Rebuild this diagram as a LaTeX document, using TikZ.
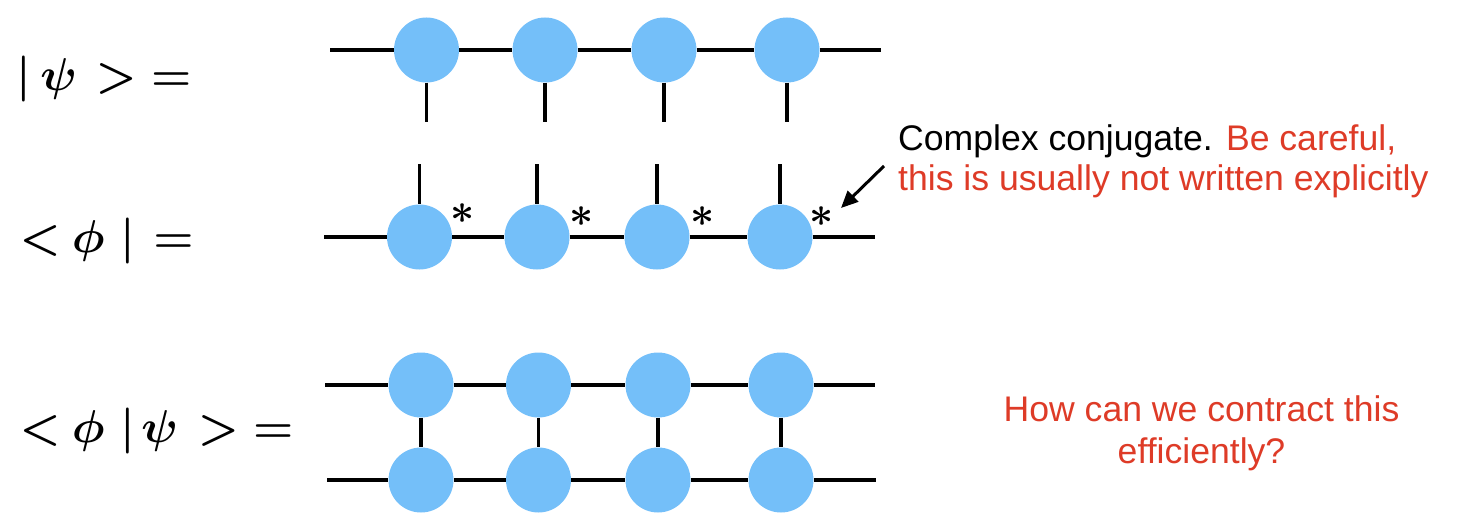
\RequirePackage{fix-cm}
\documentclass[tikz,border=0pt]{standalone}
\usepackage{fontspec}
\newfontfamily\notefont{Liberation Sans}
\usetikzlibrary{arrows.meta}

\definecolor{tensorblue}{RGB}{116,191,249}
\definecolor{notered}{RGB}{222,59,39}

\tikzset{
  tensor/.style={circle, fill=tensorblue, minimum size=65pt, inner sep=0pt},
  leg/.style={line width=3.3pt},
  lbl/.style={anchor=base west, inner sep=0pt, font=\fontsize{46}{56}\selectfont\boldmath},
  note/.style={inner sep=0pt, font=\notefont\fontsize{35.6}{42}\selectfont},
  conj/.style={inner sep=0pt, font=\fontsize{42}{42}\selectfont\boldmath}
}

\begin{document}
\begin{tikzpicture}[x=1pt,y=-1pt]
\useasboundingbox (0,0) rectangle (1472,516);

% labels
\node[lbl] (ket) at (16,91) {${\vert}\kern9.6pt\psi\kern18.5pt{>}\kern14.5pt{=}$};
\node[lbl] (bra) at (19.5,252.5) {${<}\kern11pt\phi\kern16pt{\vert}\kern18pt{=}$};
\node[lbl] (braket) at (19.5,442.5) {${<}\kern11pt\phi\kern16pt{\vert}\kern6pt\psi\kern20pt{>}\kern14pt{=}$};

% ket
\foreach \x [count=\i] in {426.5,545,664,787} {
  \node[tensor] (k\i) at (\x,50) {};
  \coordinate (kd\i) at (\x,122);
  \draw[leg] (k\i) -- (kd\i);
}
\coordinate (kL) at (330,50);
\coordinate (kR) at (881,50);
\draw[leg] (kL) -- (k1) -- (k2) -- (k3) -- (k4) -- (kR);

% bra
\foreach \x/\sx/\sy [count=\i] in {419.5/463/214, 537/582/217, 657/703/217, 780/822/217} {
  \node[tensor] (b\i) at (\x,237) {};
  \coordinate (bu\i) at (\x,164);
  \draw[leg] (bu\i) -- (b\i);
  \node[conj] (s\i) at (\sx,\sy) {$\ast$};
}
\coordinate (bL) at (324,237);
\coordinate (bR) at (875,237);
\draw[leg] (bL) -- (b1) -- (b2) -- (b3) -- (b4) -- (bR);

% <phi|psi>
\foreach \x [count=\i] in {421,538.5,658,781} {
  \node[tensor] (t\i) at (\x,385) {};
  \node[tensor] (u\i) at (\x,480) {};
  \draw[leg] (t\i) -- (u\i);
}
\coordinate (tL) at (325,385);
\coordinate (tR) at (875,385);
\coordinate (uL) at (327,480);
\coordinate (uR) at (876,480);
\draw[leg] (tL) -- (t1) -- (t2) -- (t3) -- (t4) -- (tR);
\draw[leg] (uL) -- (u1) -- (u2) -- (u3) -- (u4) -- (uR);

% notes
\node[note, anchor=base west] (cc) at (898,150) {Complex conjugate. \textcolor{notered}{Be careful,}};
\node[note, anchor=base west, text=notered] (cc2) at (898,190) {this is usually not written explicitly};
\coordinate (tail) at (884,166);
\coordinate (tip) at (841,208);
\draw[line width=3pt, -{Triangle[length=17pt,width=15pt]}] (tail) -- (tip);

\node[note, anchor=base, text=notered] (q1) at (1201.5,421.5) {How can we contract this};
\node[note, anchor=base, text=notered] (q2) at (1201.5,463) {efficiently?};
\end{tikzpicture}
\end{document}
